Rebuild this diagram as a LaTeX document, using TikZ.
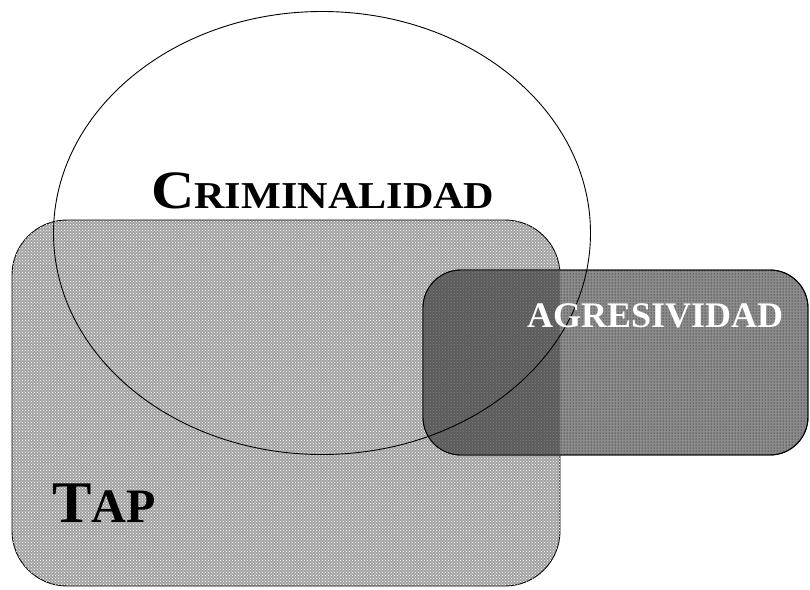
\documentclass[tikz,border=0pt]{standalone}
\usepackage{fontspec}
\setmainfont{Liberation Serif}
\usetikzlibrary{patterns,shapes.geometric}
\definecolor{tapgray}{gray}{0.64}
\definecolor{agrgray}{gray}{0.55}
\definecolor{bothgray}{gray}{0.36}
\tikzset{
  tapbox/.style={fill=tapgray, draw=black, line width=0.9pt},
  agrbox/.style={fill=agrgray, draw=black, line width=0.9pt},
  ringline/.style={draw=black, line width=0.9pt},
  label/.style={font=\bfseries, inner sep=0pt, anchor=base west}
}
\begin{document}
\begin{tikzpicture}[x=1pt,y=-1pt]
  \useasboundingbox (0,0) rectangle (810,589);
  % TAP box
  \path[tapbox, rounded corners=55pt] (12,220) rectangle (560,586);
  \path[pattern=crosshatch dots, pattern color=white, rounded corners=55pt] (12,220) rectangle (560,586);
  % AGRESIVIDAD box
  \path[agrbox, rounded corners=38pt] (423,270) rectangle (808,455);
  \path[pattern=dots, pattern color=black, rounded corners=38pt] (423,270) rectangle (808,455);
  % darker overlap of both boxes
  \begin{scope}
    \clip[rounded corners=55pt] (12,220) rectangle (560,586);
    \fill[bothgray, rounded corners=38pt] (423,270) rectangle (808,455);
    \path[pattern=crosshatch dots, pattern color=gray, rounded corners=38pt] (423,270) rectangle (808,455);
  \end{scope}
  \draw[black, line width=0.9pt, rounded corners=38pt] (423,270) rectangle (808,455);
  % CRIMINALIDAD ellipse
  \node[ringline, ellipse, minimum width=537pt, minimum height=443pt, inner sep=0pt] (crim) at (322,233) {};
  % labels
  \node[label] (tcrim) at (151,208) {\addfontfeatures{FakeStretch=1.11}\fontsize{54}{54}\selectfont C\fontsize{38}{38}\selectfont RIMINALIDAD};
  \node[label] (ttap) at (52,522) {\fontsize{59}{59}\selectfont T\fontsize{48}{48}\selectfont AP};
  \node[label, text=white] (tagr) at (527,327) {\fontsize{36}{36}\selectfont AGRESIVIDAD};
\end{tikzpicture}
\end{document}
